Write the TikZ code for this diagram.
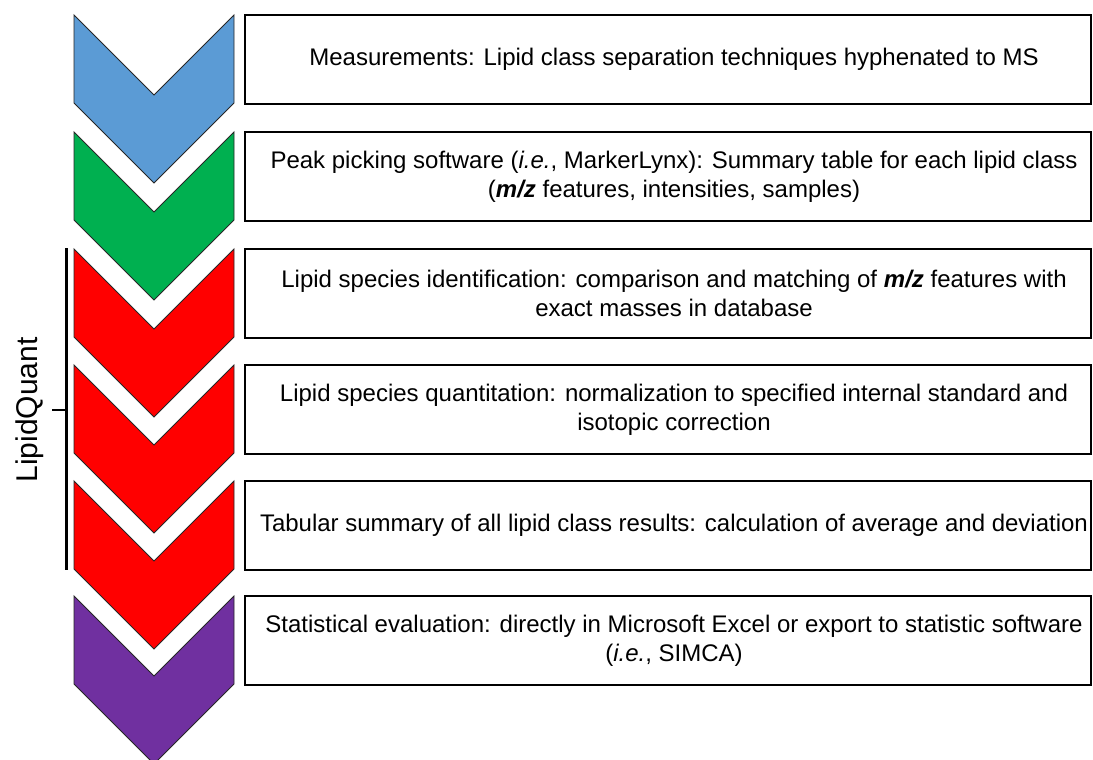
\documentclass[tikz,border=0pt]{standalone}
\usepackage{fontspec}
\setmainfont{Liberation Sans}
\usepackage{xcolor}
\usepackage{tikz}

\definecolor{measblue}{HTML}{5B9BD5}
\definecolor{peakgreen}{HTML}{00B050}
\definecolor{quantred}{HTML}{FF0000}
\definecolor{statpurple}{HTML}{7030A0}

\begin{document}
\begin{tikzpicture}[x=1pt,y=-1pt,
  chevron/.style={draw=black!85, line width=0.9pt, line join=miter},
  stepbox/.style={draw=black, line width=2.5pt, minimum width=846pt, minimum height=89pt, inner sep=0pt},
  steptext/.style={align=center, inner sep=0pt, font=\fontsize{24}{29}\selectfont}]
\clip (0,0) rectangle (1093,760);

% chevrons, one per step
\filldraw[chevron, fill=measblue] (74,15) -- ++(80,80) -- ++(80,-80) -- ++(0,88) -- ++(-80,80) -- ++(-80,-80) -- cycle;
\filldraw[chevron, fill=peakgreen] (74,132) -- ++(80,80) -- ++(80,-80) -- ++(0,88) -- ++(-80,80) -- ++(-80,-80) -- cycle;
\filldraw[chevron, fill=quantred] (74,249) -- ++(80,80) -- ++(80,-80) -- ++(0,88) -- ++(-80,80) -- ++(-80,-80) -- cycle;
\filldraw[chevron, fill=quantred] (74,365) -- ++(80,80) -- ++(80,-80) -- ++(0,88) -- ++(-80,80) -- ++(-80,-80) -- cycle;
\filldraw[chevron, fill=quantred] (74,481) -- ++(80,80) -- ++(80,-80) -- ++(0,88) -- ++(-80,80) -- ++(-80,-80) -- cycle;
\filldraw[chevron, fill=statpurple] (74,596) -- ++(80,80) -- ++(80,-80) -- ++(0,88) -- ++(-80,80) -- ++(-80,-80) -- cycle;

% boxes with the step descriptions
\node[stepbox] (box1) at (668,59.5) {};
\node[stepbox] (box2) at (668,176.5) {};
\node[stepbox] (box3) at (668,293.5) {};
\node[stepbox] (box4) at (668,409.5) {};
\node[stepbox] (box5) at (668,525.5) {};
\node[stepbox] (box6) at (668,640.5) {};

\node[steptext] (txt1) at ([xshift=6pt]box1.center) {Measurements: Lipid class separation techniques hyphenated to MS};
\node[steptext] (txt2) at ([xshift=6pt]box2.center) {Peak picking software (\textit{i.e.}, MarkerLynx): Summary table for each lipid class\\(\textbf{\textit{m/z}} features, intensities, samples)};
\node[steptext] (txt3) at ([xshift=6pt]box3.center) {Lipid species identification: comparison and matching of \textbf{\textit{m/z}} features with\\exact masses in database};
\node[steptext] (txt4) at ([xshift=6pt]box4.center) {Lipid species quantitation: normalization to specified internal standard and\\isotopic correction};
\node[steptext] (txt5) at ([xshift=6pt]box5.center) {Tabular summary of all lipid class results: calculation of average and deviation};
\node[steptext] (txt6) at ([xshift=6pt]box6.center) {Statistical evaluation: directly in Microsoft Excel or export to statistic software\\(\textit{i.e.}, SIMCA)};

% bracket for the LipidQuant steps
\coordinate (qtop) at (66,248);
\coordinate (qbot) at (66,570);
\coordinate (qmid) at (66,410);
\coordinate (qtick) at (52,410);
\draw[line width=3pt] (qtop) -- (qbot);
\draw[line width=2pt] (qmid) -- (qtick);
\node[rotate=90, anchor=base, inner sep=0pt, font=\fontsize{30}{36}\selectfont] (quant) at (37,410) {LipidQuant};

\end{tikzpicture}
\end{document}
